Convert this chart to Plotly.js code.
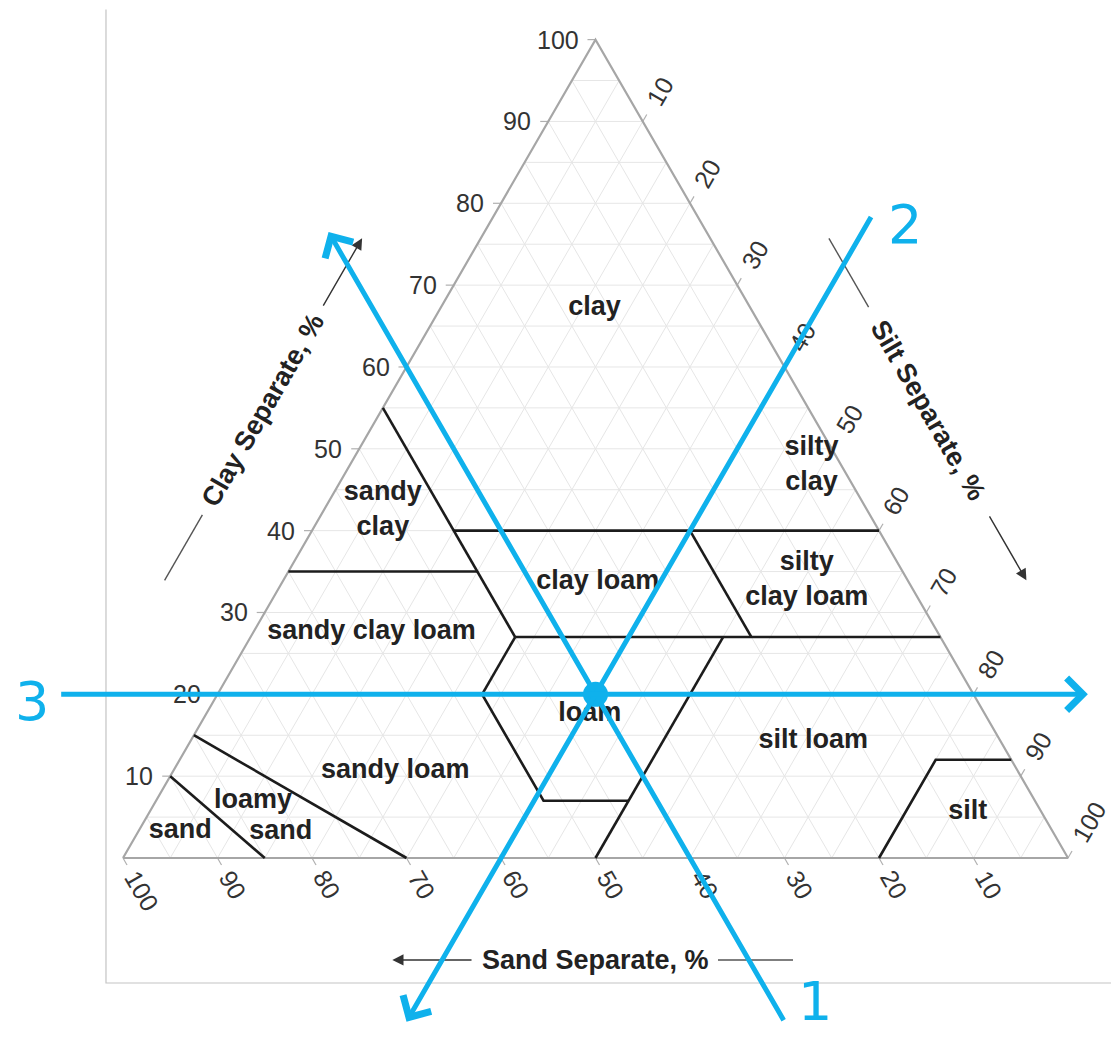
<!DOCTYPE html>
<html><head><meta charset="utf-8">
<script src="https://cdn.plot.ly/plotly-3.0.1.min.js"></script>
<style>html,body{margin:0;padding:0;background:#fff}#chart{width:1111px;height:1041px}</style>
</head><body><div id="chart"></div>
<script>
// ---------------- data ----------------
const tickValues = [10, 20, 30, 40, 50, 60, 70, 80, 90, 100];
const gridValues = [5, 10, 15, 20, 25, 30, 35, 40, 45, 50, 55, 60, 65, 70, 75, 80, 85, 90, 95];

// texture class boundaries, each point = [sand, silt, clay] (%)
const boundarySand      = [[90, 0, 10], [85, 15, 0]];
const boundaryLoamySand = [[85, 0, 15], [70, 30, 0]];
const boundarySandyLoam = [[80, 0, 20], [52, 28, 20], [52, 41, 7], [43, 50, 7]];
const boundarySilt50    = [[50, 50, 0], [23, 50, 27]];
const boundaryLoamSCL   = [[52, 28, 20], [45, 28, 27]];
const boundaryClay27    = [[45, 28, 27], [0, 73, 27]];
const boundaryClay35    = [[65, 0, 35], [45, 20, 35]];
const boundarySand45    = [[45, 0, 55], [45, 28, 27]];
const boundaryClay40    = [[45, 15, 40], [0, 60, 40]];
const boundarySand20    = [[20, 40, 40], [20, 53, 27]];
const boundarySilt40    = [[20, 40, 40], [0, 40, 60]];
const boundarySiltClass = [[20, 80, 0], [8, 80, 12], [0, 88, 12]];
const boundaries = [boundarySand, boundaryLoamySand, boundarySandyLoam, boundarySilt50, boundaryLoamSCL,
  boundaryClay27, boundaryClay35, boundarySand45, boundaryClay40, boundarySand20, boundarySilt40, boundarySiltClass];

// class labels
const regionNames = ['clay', 'sandy<br>clay', 'silty<br>clay', 'clay loam', 'silty<br>clay loam', 'sandy clay loam',
  'loam', 'silt loam', 'sandy loam', 'loamy', 'sand', 'sand', 'silt'];
const regionSand = [16.5, 51.3, 3.2, 32.9, 10.7, 59.9, 41.8, 19.8, 65.9, 82.8, 81.7, 92.3, 7.8];
const regionSilt = [16.3, 6.3, 48.9, 33.4, 55.4, 12.5, 40.6, 65.9, 23.5, 10.3, 15.1, 4.4, 86.6];
const regionClay = [67.2, 42.4, 47.9, 33.7, 33.9, 27.6, 17.6, 14.3, 10.6, 6.9, 3.2, 3.3, 5.6];

// highlighted sample and its three reading lines: [sand, silt, clay]
const samplePoint = [40, 40, 20];
const readLineTail = [[40, 80, -20], [-18.5, 40, 78.5], [96.7, -16.7, 20]];
const readLineHead = [[40, -16.5, 76.5], [80, 40, -20], [-12.1, 92.1, 20]];
const readLineNames = ['1', '2', '3'];

// ---------------- helpers ----------------
const S3 = Math.sqrt(3) / 2;
const tX = p => p[1] + p[2] / 2;
const tY = p => p[2] * S3;

const FONT = 'Liberation Sans, Arial, Helvetica, sans-serif';
const BLUE = '#0fb1ec';
const traces = [];
const annotations = [];

// grid
(function () {
  const gx = [], gy = [];
  const seg = (a, b) => { gx.push(tX(a), tX(b), null); gy.push(tY(a), tY(b), null); };
  gridValues.forEach(v => {
    seg([100 - v, 0, v], [0, 100 - v, v]);
    seg([v, 100 - v, 0], [v, 0, 100 - v]);
    seg([100 - v, v, 0], [0, v, 100 - v]);
  });
  traces.push({ type: 'scatter', mode: 'lines', x: gx, y: gy, hoverinfo: 'skip',
    line: { color: '#e6e6e6', width: 1 } });
})();

// frame (L shape)
traces.push({ type: 'scatter', mode: 'lines', x: [-1.8, -1.8, 106], y: [89.8, -13.23, -13.23],
  hoverinfo: 'skip', line: { color: '#c4c4c4', width: 1.2 } });

// ticks
(function () {
  const L = 0.85;
  const kx = [], ky = [];
  tickValues.forEach(v => {
    let p = [100 - v, 0, v];
    kx.push(tX(p), tX(p) - L, null); ky.push(tY(p), tY(p), null);
    p = [v, 100 - v, 0];
    kx.push(tX(p), tX(p) + L * 0.5, null); ky.push(tY(p), tY(p) - L * S3, null);
    p = [0, v, 100 - v];
    kx.push(tX(p), tX(p) + L * 0.5, null); ky.push(tY(p), tY(p) + L * S3, null);
  });
  traces.push({ type: 'scatter', mode: 'lines', x: kx, y: ky, hoverinfo: 'skip',
    line: { color: '#b0b0b0', width: 1.2 } });
})();

// triangle outline
(function () {
  const pts = [[100, 0, 0], [0, 100, 0], [0, 0, 100], [100, 0, 0]];
  traces.push({ type: 'scatter', mode: 'lines', x: pts.map(tX), y: pts.map(tY), hoverinfo: 'skip',
    line: { color: '#a6a6a6', width: 2.2 } });
})();

// class boundaries
(function () {
  const bx = [], by = [];
  boundaries.forEach(b => { b.forEach(p => { bx.push(tX(p)); by.push(tY(p)); }); bx.push(null); by.push(null); });
  traces.push({ type: 'scatter', mode: 'lines', x: bx, y: by, hoverinfo: 'skip',
    line: { color: '#1c1c1c', width: 2.6 } });
})();

// class labels
(function () {
  const pts = regionNames.map((n, i) => [regionSand[i], regionSilt[i], regionClay[i]]);
  traces.push({ type: 'scatter', mode: 'text', x: pts.map(tX), y: pts.map(tY), text: regionNames,
    textposition: 'middle center', hoverinfo: 'skip',
    textfont: { family: FONT, size: 27, color: '#222', weight: 'bold' } });
})();

// tick labels
tickValues.forEach(v => {
  const tf = { family: FONT, size: 25, color: '#333' };
  const w = String(v).length * 0.556 * 25;
  let p = [100 - v, 0, v];
  annotations.push({ x: tX(p), y: tY(p), xref: 'x', yref: 'y', text: String(v), showarrow: false,
    xanchor: 'right', yanchor: 'middle', xshift: -15, font: tf });
  p = [v, 100 - v, 0];
  let d = 17 + w / 2;
  annotations.push({ x: tX(p), y: tY(p), xref: 'x', yref: 'y', text: String(v), showarrow: false,
    xanchor: 'center', yanchor: 'middle', textangle: 60, xshift: d * 0.5, yshift: -d * S3, font: tf });
  p = [0, v, 100 - v];
  d = 21 + w / 2;
  annotations.push({ x: tX(p), y: tY(p), xref: 'x', yref: 'y', text: String(v), showarrow: false,
    xanchor: 'center', yanchor: 'middle', textangle: -60, xshift: d * 0.5, yshift: d * S3, font: tf });
});

// axis titles with their arrows
const titleFont = { family: FONT, size: 27, color: '#222', weight: 'bold' };
annotations.push({ x: 14.81, y: 47.41, xref: 'x', yref: 'y', text: 'Clay Separate, %', showarrow: false,
  textangle: -60, xanchor: 'center', yanchor: 'middle', font: titleFont });
annotations.push({ x: 85.19, y: 47.41, xref: 'x', yref: 'y', text: 'Silt Separate, %', showarrow: false,
  textangle: 60, xanchor: 'center', yanchor: 'middle', font: titleFont });
annotations.push({ x: 50, y: -10.79, xref: 'x', yref: 'y', text: 'Sand Separate, %', showarrow: false,
  xanchor: 'center', yanchor: 'middle', font: titleFont });
traces.push({ type: 'scatter', mode: 'lines', hoverinfo: 'skip',
  x: [4.4, 8.4, null, 78.9, 74.7, null, 62.96, 70.9],
  y: [29.38, 36.31, null, 58.3, 65.57, null, -10.79, -10.79],
  line: { color: '#555', width: 1.4 } });
[[21.1, 58.3, 25.3, 65.57], [91.6, 36.31, 95.6, 29.38], [37.04, -10.79, 28.5, -10.79]].forEach(a => {
  annotations.push({ x: a[2], y: a[3], ax: a[0], ay: a[1], xref: 'x', yref: 'y', axref: 'x', ayref: 'y',
    text: '', showarrow: true, arrowhead: 2, arrowsize: 1.6, arrowwidth: 1.4, arrowcolor: '#333',
    standoff: 0, startstandoff: 0 });
});

// sample point and reading lines
traces.push({ type: 'scatter', mode: 'markers', x: [tX(samplePoint)], y: [tY(samplePoint)], hoverinfo: 'skip',
  marker: { color: BLUE, size: 25, line: { width: 0 } } });
readLineTail.forEach((t, i) => {
  const h = readLineHead[i];
  annotations.push({ x: tX(h), y: tY(h), ax: tX(t), ay: tY(t), xref: 'x', yref: 'y', axref: 'x', ayref: 'y',
    text: '', showarrow: true, arrowhead: 4, arrowsize: 1.25, arrowwidth: 5, arrowcolor: BLUE,
    standoff: 0, startstandoff: 0 });
});
const numberPos = [[73.2, -15.2], [82.75, 67.09], [-9.63, 16.61]];
readLineNames.forEach((n, i) => {
  annotations.push({ x: numberPos[i][0], y: numberPos[i][1], xref: 'x', yref: 'y', text: n, showarrow: false,
    xanchor: 'center', yanchor: 'middle', font: { family: 'DejaVu Sans, sans-serif', size: 54, color: BLUE } });
});

const layout = {
  width: 1111, height: 1041,
  margin: { l: 0, r: 0, t: 0, b: 0, pad: 0 },
  paper_bgcolor: '#fff', plot_bgcolor: '#fff',
  showlegend: false,
  xaxis: { range: [-13.016, 104.55], visible: false, fixedrange: true },
  yaxis: { range: [-19.365, 90.794], visible: false, fixedrange: true },
  annotations: annotations
};
Plotly.newPlot('chart', traces, layout, { staticPlot: true, displayModeBar: false });
</script></body></html>
